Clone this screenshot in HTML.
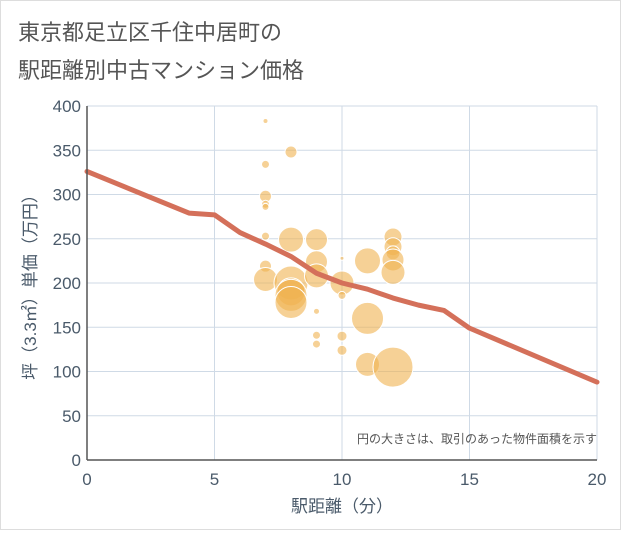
<!DOCTYPE html>
<html><head><meta charset="utf-8"><style>
body{margin:0;background:#fff;}
svg text{font-family:"Liberation Sans","Noto Sans CJK JP",sans-serif;}
</style></head><body>
<svg id="c" width="621" height="530" viewBox="0 0 621 530" xmlns="http://www.w3.org/2000/svg">
<rect x="0.5" y="0.5" width="620" height="529" fill="#fff" stroke="#ddd"/>
<text x="18" y="40" font-size="22" fill="#555">東京都足立区千住中居町の</text>
<text x="18" y="78" font-size="22" fill="#555">駅距離別中古マンション価格</text>
<g id="grid"></g>
<g id="bubbles"></g>
<g id="line"></g>
<g id="axes"></g>
<text x="597" y="443" font-size="12" fill="#555" text-anchor="end">円の大きさは、取引のあった物件面積を示す</text>
<text x="342" y="512" font-size="17" fill="#4a5a6a" text-anchor="middle">駅距離（分）</text>
<text transform="translate(36,283) rotate(-90)" font-size="17" fill="#4a5a6a" text-anchor="middle">坪（3.3㎡）単価（万円）</text>
</svg>
<script>
const xTicks=[0,5,10,15,20];
const yTicks=[0,50,100,150,200,250,300,350,400];
const bubbleX=[7,8,7,7,7,7,7,8,9,7,7,8,8,8,8,9,9,9,9,9,10,10,10,10,10,11,11,11,12,12,12,12,12,12];
const bubbleY=[383,348,334,298,289,286,253,249,249,219,204,200,190,186,178,224,208,168,141,131,228,200,186,140,124,225,160,108,105,252,241,234,226,212];
const bubbleR=[2.5,6,4,6,4,3.5,4,12.5,11,6,12,17,14,16,16,11,12,3,4,4,2,12,4,5,5,13,16,12,20,9,9,7,11,12];
const lineX=[0,4,5,6,7,8,9,10,11,12,13,14,15,20];
const lineY=[326,279,277,257,244,230,211,200,193,183,175,169,149,88];
const NS="http://www.w3.org/2000/svg";
const X0=87,X1=597,Y0=460,Y1=106;
const sx=v=>X0+(v-0)/(20-0)*(X1-X0);
const sy=v=>Y0-(v-0)/(400-0)*(Y0-Y1);
function mk(tag,attrs,parent){const e=document.createElementNS(NS,tag);for(const k in attrs)e.setAttribute(k,attrs[k]);parent.appendChild(e);return e;}
const grid=document.getElementById('grid');
yTicks.forEach(t=>{
  const l=mk('line',{x1:X0,x2:X1,y1:sy(t),y2:sy(t),stroke:'#cfdae6','stroke-width':1},grid);
  
  
});
xTicks.forEach(t=>{
  const l=mk('line',{x1:sx(t),x2:sx(t),y1:Y1,y2:Y0,stroke:'#cfdae6','stroke-width':1},grid);
  
  
});
const bg=document.getElementById('bubbles');
bubbleX.forEach((x,i)=>{
  const c=mk('circle',{cx:sx(x),cy:sy(bubbleY[i]),r:bubbleR[i],fill:'rgba(240,178,80,0.6)',stroke:'#fff','stroke-width':1},bg);
  
  
});
const pts=lineX.map((x,i)=>sx(x)+','+sy(lineY[i])).join(' ');
const pl=mk('polyline',{points:pts,fill:'none',stroke:'#d4705a','stroke-width':5,'stroke-linejoin':'round','stroke-linecap':'round'},document.getElementById('line'));


const ax=document.getElementById('axes');
const xa=mk('line',{x1:X0,x2:X1,y1:Y0,y2:Y0,stroke:'#555','stroke-width':1.5},ax);


const ya=mk('line',{x1:X0,x2:X0,y1:Y1,y2:Y0,stroke:'#555','stroke-width':1.5},ax);


yTicks.forEach(t=>{
  const tx=mk('text',{x:X0-6,y:sy(t)+6,'font-size':17,fill:'#4a5a6a','text-anchor':'end'},ax);
  tx.textContent=t;
  
  
});
xTicks.forEach(t=>{
  const tx=mk('text',{x:sx(t),y:Y0+25,'font-size':17,fill:'#4a5a6a','text-anchor':'middle'},ax);
  tx.textContent=t;
  
  
});
</script>
</body></html>
